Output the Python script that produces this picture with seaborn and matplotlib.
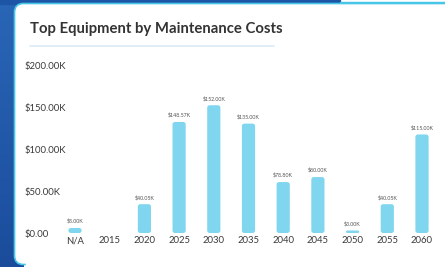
import matplotlib
matplotlib.use("Agg")
import matplotlib.pyplot as plt
import seaborn as sns
import pandas as pd
import numpy as np
from matplotlib.patches import FancyBboxPatch, Rectangle

categories = ["N/A", "2015", "2020", "2025", "2030", "2035", "2040", "2045", "2050", "2055", "2060"]
# bar heights in thousands of dollars, as drawn
values = [6.0, 0.0, 34.5, 133.0, 153.0, 131.0, 61.0, 67.0, 3.0, 34.5, 118.0]
value_labels = ["$5.00K", "", "$40.05K", "$148.57K", "$152.00K", "$135.00K",
                "$78.80K", "$80.00K", "$3.00K", "$40.05K", "$115.00K"]
y_ticks = [0, 50, 100, 150, 200]
y_tick_labels = ["$0.00", "$50.00K", "$100.00K", "$150.00K", "$200.00K"]
title = "Top Equipment by Maintenance Costs"

sns.set_theme(style="white")
plt.rcParams["font.family"] = ["Lato", "DejaVu Sans"]

W, H = 445, 267
fig = plt.figure(figsize=(W / 100, H / 100), dpi=100)
fig.patch.set_facecolor("white")

bg_ax = fig.add_axes([0, 0, 1, 1], zorder=-10)
bg_ax.set_axis_off()
cmap = matplotlib.colors.LinearSegmentedColormap.from_list("g", ["#2a66b6", "#1b4c9c"])
grad = np.linspace(0, 1, 100).reshape(-1, 1)
bg_ax.imshow(grad, aspect="auto", cmap=cmap, extent=[0, 24, H, 0])
bg_ax.add_patch(Rectangle((0, 0), 340, 4, color="#1d55a6"))
bg_ax.add_patch(Rectangle((340, 1.5), W - 340, 2, color="#47c6e8"))
card = FancyBboxPatch((14.5, 3.5), W + 20, H - 6,
                      boxstyle="round,pad=0,rounding_size=9",
                      facecolor="white", edgecolor="#47c6e8", linewidth=1.2, zorder=1)
bg_ax.add_patch(card)
bg_ax.add_patch(Rectangle((26, H - 5), W, 6, color="white", zorder=2))
bg_ax.set_xlim(0, W)
bg_ax.set_ylim(H, 0)

# title and underline
fig.text(30 / W, 1 - 29 / H, title, fontsize=10.7, fontweight="bold",
         color="#333333", ha="left", va="center")
fig.add_artist(plt.Line2D([30 / W, 274 / W], [1 - 45.5 / H, 1 - 45.5 / H],
                          color="#dce9f5", linewidth=1.2, transform=fig.transFigure))

# main axes
left_px, right_px = 60, 440
bottom_px, top_px = 233, 66
ax = fig.add_axes([left_px / W, (H - bottom_px) / H,
                   (right_px - left_px) / W, (bottom_px - top_px) / H])
ax.patch.set_alpha(0)

df = pd.DataFrame({"category": categories, "value": values})
sns.barplot(data=df, x="category", y="value", color="#7fd6ee", saturation=1,
            width=0.38, ax=ax, order=categories)

spacing = 34.7
x0 = -(75 - left_px) / spacing
ax.set_xlim(x0, x0 + (right_px - left_px) / spacing)
ax.set_ylim(0, 200)

# round the bar corners
px_per_y = (bottom_px - top_px) / 200.0
aspect = (1 / px_per_y) / (1 / spacing)
for p in list(ax.patches):
    x, y = p.get_x(), p.get_y()
    w, h = p.get_width(), p.get_height()
    if h <= 0:
        p.remove()
        continue
    r = min(2.5 / spacing, (h * px_per_y / 2) / spacing * 0.98)
    fb = FancyBboxPatch((x, y), w, h, boxstyle=f"round,pad=0,rounding_size={r}",
                        mutation_aspect=aspect, facecolor=p.get_facecolor(),
                        edgecolor="none", linewidth=0)
    p.remove()
    ax.add_patch(fb)

ax.set_yticks(y_ticks)
ax.set_yticklabels(y_tick_labels)
for lab in ax.get_yticklabels():
    lab.set_horizontalalignment("left")
ax.tick_params(axis="y", length=0, pad=(left_px - 25) * 0.72, labelsize=6.8, labelcolor="#3a3a3a")
ax.tick_params(axis="x", length=0, pad=2.5, labelsize=6.8, labelcolor="#3a3a3a")
ax.set_xlabel("")
ax.set_ylabel("")
for s in ax.spines.values():
    s.set_visible(False)
ax.grid(False)

for i, (v, lab) in enumerate(zip(values, value_labels)):
    if lab:
        ax.annotate(lab, (i, v), xytext=(0, 3), textcoords="offset points",
                    ha="center", va="bottom", fontsize=3.8, color="#555555")

fig.savefig("out.png", dpi=100)
